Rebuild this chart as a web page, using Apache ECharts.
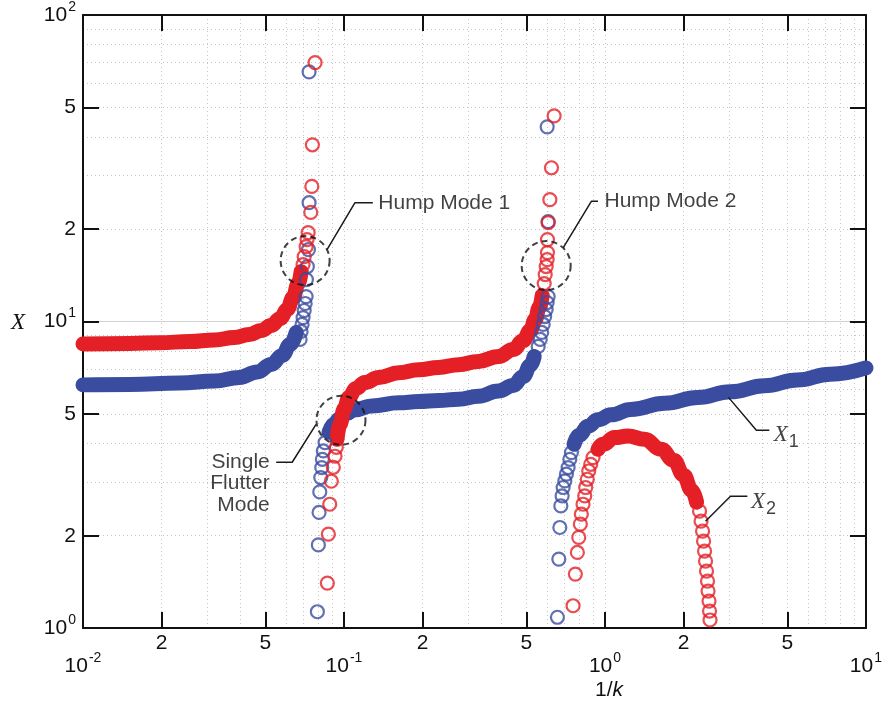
<!DOCTYPE html>
<html>
<head>
<meta charset="utf-8">
<script src="https://cdn.jsdelivr.net/npm/echarts@6/dist/echarts.min.js"></script>
<style>
  html, body { margin: 0; padding: 0; background: #fff; }
  #chart { width: 885px; height: 717px; }
</style>
</head>
<body>
<div id="chart"></div>
<script>
// ---- axis ticks, labels and grid positions (1/k on x, X on y) ----
const xTickValues   = [0.02, 0.05, 0.1, 0.2, 0.5, 1, 2, 5];
const xMinorLabels  = [0.02, 0.05, 0.2, 0.5, 2, 5];
const xDecadeLabels = [0.01, 0.1, 1, 10];
const xGridValues   = [0.02, 0.03, 0.04, 0.05, 0.06, 0.07, 0.08, 0.09, 0.1,
                       0.2, 0.3, 0.4, 0.5, 0.6, 0.7, 0.8, 0.9, 1,
                       2, 3, 4, 5, 6, 7, 8, 9];
const yTickValues   = [2, 5, 10, 20, 50];
const yLabelValues  = [1, 2, 5, 10, 20, 50, 100];
const yGridValues   = [2, 3, 4, 5, 6, 7, 8, 9, 20, 30, 40, 50, 60, 70, 80, 90];
const yGridSolid    = [10];

// ---- X1 (blue) : dense runs and separated samples ----
const x1BandLow = [[0.01, 6.212], [0.01511, 6.235], [0.02345, 6.3], [0.03191, 6.4],
  [0.03974, 6.571], [0.04655, 6.848], [0.05266, 7.244], [0.05801, 7.752],
  [0.0622, 8.416], [0.0656, 9.21]];
const x1RingsLow = [[0.0679, 8.74], [0.0685, 9.28], [0.0691, 9.78], [0.0697, 10.3],
  [0.0704, 10.86], [0.071, 11.45], [0.0716, 12.06], [0.0718, 13.7], [0.0724, 15.11],
  [0.0731, 17.16], [0.0735, 24.41], [0.0735, 65.23]];
const x1RingsMidBottom = [[0.07908, 1.13], [0.07977, 1.867], [0.08027, 2.382],
  [0.08077, 2.78], [0.08148, 3.097], [0.0822, 3.338], [0.08263, 3.552],
  [0.08336, 3.781], [0.08462, 4.027]];
const x1BandMid = [[0.08764, 4.35], [0.09158, 4.618], [0.0957, 4.795], [0.1018, 5.0],
  [0.1092, 5.14], [0.1279, 5.3], [0.1622, 5.43], [0.1933, 5.48], [0.2305, 5.52],
  [0.2748, 5.58], [0.3276, 5.7], [0.3905, 5.937], [0.4456, 6.186], [0.4864, 6.618],
  [0.5172, 7.19], [0.5358, 7.691]];
const x1RingsMidTop = [[0.5549, 8.29], [0.5647, 8.74], [0.5722, 9.21], [0.5798, 9.78],
  [0.5875, 10.38], [0.5954, 10.94], [0.6006, 11.53], [0.6058, 12.06], [0.6058, 21.17],
  [0.6006, 43.17]];
const x1RingsHigh = [[0.6575, 1.084], [0.6657, 1.678], [0.6716, 2.128], [0.6775, 2.502],
  [0.6853, 2.697], [0.6914, 2.873], [0.7018, 3.018], [0.7117, 3.175], [0.7225, 3.338],
  [0.7334, 3.552], [0.7438, 3.735]];
const x1BandHigh = [[0.7616, 3.975], [0.7959, 4.253], [0.8613, 4.55], [0.9404, 4.78],
  [1.054, 4.96], [1.256, 5.16], [1.694, 5.406], [2.265, 5.647], [3.027, 5.898],
  [4.081, 6.168], [5.452, 6.443], [7.29, 6.73], [10, 7.057]];

// ---- X2 (red) : dense runs and separated samples ----
const x2BandLow = [[0.01, 8.447], [0.01511, 8.48], [0.01967, 8.53], [0.02561, 8.6],
  [0.03191, 8.705], [0.03804, 8.871], [0.04339, 9.073], [0.04822, 9.348],
  [0.05266, 9.705], [0.05699, 10.23], [0.06059, 10.94], [0.06387, 11.97],
  [0.06674, 13.3], [0.06853, 14.55]];
const x2RingsLow = [[0.0697, 15.34], [0.0704, 16.28], [0.0716, 17.55], [0.0722, 18.5],
  [0.0729, 19.49], [0.0746, 22.7], [0.0753, 27.59], [0.0757, 37.72], [0.0775, 69.93]];
const x2RingsMidBottom = [[0.08636, 1.401], [0.08712, 2.024], [0.08819, 2.534],
  [0.08944, 3.012], [0.09104, 3.345], [0.09239, 3.634], [0.09346, 3.887]];
const x2BandMid = [[0.09404, 4.127], [0.09654, 4.618], [0.1, 5.169], [0.1045, 5.655],
  [0.1111, 6.05], [0.1203, 6.328], [0.136, 6.571], [0.1622, 6.8], [0.1933, 6.96],
  [0.2305, 7.084], [0.2748, 7.23], [0.3276, 7.409], [0.3905, 7.691], [0.4456, 8.105],
  [0.4864, 8.67], [0.5172, 9.348], [0.5405, 10.15], [0.5599, 11.11], [0.5748, 12.15]];
const x2RingsMidTop = [[0.5851, 13.3], [0.5902, 14.23], [0.5954, 15.11], [0.6006, 15.92],
  [0.6022, 16.78], [0.6022, 18.5], [0.6058, 21.01], [0.615, 24.97], [0.6237, 31.74],
  [0.6387, 46.88]];
const x2RingsArchLeft = [[0.7549, 1.182], [0.7702, 1.499], [0.784, 1.764], [0.7937, 1.975],
  [0.8049, 2.182], [0.812, 2.351], [0.8241, 2.534], [0.8365, 2.697], [0.8439, 2.873],
  [0.8558, 3.057], [0.8667, 3.253], [0.882, 3.421], [0.9001, 3.597]];
const x2BandArch = [[0.9404, 3.829], [0.9826, 3.975], [1.089, 4.18], [1.224, 4.23],
  [1.417, 4.127], [1.64, 3.829], [1.834, 3.525], [2.002, 3.15], [2.148, 2.815],
  [2.245, 2.573]];
const x2RingsArchRight = [[2.304, 2.405], [2.335, 2.231], [2.366, 2.07], [2.387, 1.92],
  [2.408, 1.781], [2.429, 1.652], [2.45, 1.533], [2.472, 1.422], [2.483, 1.32],
  [2.505, 1.224], [2.516, 1.136], [2.527, 1.062]];

// ---- annotations (data coordinates) ----
const modeCircles = [[0.07097, 15.8], [0.5954, 15.22], [0.09739, 4.761]];
const leaderHump1 = [[0.08612, 17.16], [0.1102, 24.41], [0.129, 24.41]];
const leaderHump2 = [[0.6914, 17.38], [0.8866, 24.66], [0.9404, 24.66]];
const leaderSingle = [[0.055, 3.473], [0.06333, 3.473], [0.07816, 4.618]];
const leaderX1 = [[2.974, 5.655], [3.804, 4.416], [4.265, 4.416]];
const leaderX2 = [[2.429, 2.231], [3.027, 2.692], [3.514, 2.692]];
const textLabels = [
  { value: [0.1348, 24.41], text: 'Hump Mode 1', side: 'right' },
  { value: [0.9913, 24.66], text: 'Hump Mode 2', side: 'right' },
  { value: [0.0522, 2.967], text: 'Single\nFlutter\nMode', side: 'left' },
  { value: [4.416, 4.253], text: '{x|X}{s|1}', side: 'right' },
  { value: [3.608, 2.573], text: '{x|X}{s|2}', side: 'right' }
];

const BLUE = '#3a4c9f';
const RED = '#e41f26';
const SANS = '"Liberation Sans", Arial, Helvetica, sans-serif';
const SERIF = '"Liberation Serif", "Times New Roman", serif';
const FS = 21;

const exp10 = v => Math.round(Math.log10(v));
const isDecade = v => Math.abs(Math.log10(v) - exp10(v)) < 1e-9;
const mantissa = v => String(Math.round(v / Math.pow(10, Math.floor(Math.log10(v) + 1e-9))));
const powerRich = {
  b: { fontFamily: SANS, fontSize: FS, color: '#111', lineHeight: 22 },
  e: { fontFamily: SANS, fontSize: 14, color: '#111', lineHeight: 14, padding: [0, 0, 16, 1] }
};
const powerLabel = v => '{b|10}{e|' + exp10(v) + '}';

const frameLine = { show: true, lineStyle: { color: '#111', width: 2 } };
const frameTick = (vals) => ({ show: true, inside: true, length: 16,
  lineStyle: { color: '#111', width: 2 }, customValues: vals });
const dotted = { show: true, lineStyle: { color: '#c4c4c4', width: 1, type: [1, 3] } };

function bandSeries(data, color) {
  return { type: 'line', data, xAxisIndex: 0, yAxisIndex: 0, symbol: 'none', clip: false,
    smooth: 0.45, smoothMonotone: 'x', silent: true,
    lineStyle: { color, width: 15, cap: 'round', join: 'round' }, z: 3 };
}
function ringSeries(data, color) {
  return { type: 'scatter', data, xAxisIndex: 0, yAxisIndex: 0, symbol: 'circle', symbolSize: 13,
    clip: false, silent: true,
    itemStyle: { color: 'rgba(0,0,0,0)', borderColor: color, borderWidth: 2.2 }, z: 3 };
}
function leaderSeries(data) {
  return { type: 'line', data, symbol: 'none', clip: false, silent: true,
    lineStyle: { color: '#1a1a1a', width: 1.5 }, z: 6 };
}

const chart = echarts.init(document.getElementById('chart'), null, { renderer: 'canvas' });
chart.setOption({
  animation: false,
  backgroundColor: '#fff',
  grid: { left: 83, right: 17, top: 15, bottom: 89, containLabel: false },
  xAxis: [
    { type: 'log', logBase: 10, min: 0.01, max: 10, position: 'bottom',
      axisLine: frameLine, axisTick: frameTick(xTickValues), splitLine: { show: false },
      axisLabel: { customValues: xMinorLabels, formatter: mantissa, margin: 5,
        fontFamily: SANS, fontSize: FS, color: '#111' } },
    { type: 'log', logBase: 10, min: 0.01, max: 10, position: 'bottom',
      axisLine: { show: false }, axisTick: { show: false, customValues: xDecadeLabels },
      splitLine: { show: false },
      axisLabel: { customValues: xDecadeLabels, formatter: powerLabel, margin: 27, rich: powerRich } },
    { type: 'log', logBase: 10, min: 0.01, max: 10, position: 'top',
      axisLine: frameLine, axisTick: frameTick(xTickValues), axisLabel: { show: false },
      splitLine: { show: false } },
    { type: 'log', logBase: 10, min: 0.01, max: 10, position: 'bottom', z: 0,
      axisLine: { show: false }, axisTick: { show: false, customValues: xGridValues },
      axisLabel: { show: false }, splitLine: dotted }
  ],
  yAxis: [
    { type: 'log', logBase: 10, min: 1, max: 100, position: 'left',
      axisLine: frameLine, axisTick: frameTick(yTickValues), splitLine: { show: false },
      axisLabel: { customValues: yLabelValues, margin: 7, color: '#111',
        fontFamily: SANS, fontSize: FS, rich: powerRich,
        formatter: v => isDecade(v) ? powerLabel(v) : mantissa(v) } },
    { type: 'log', logBase: 10, min: 1, max: 100, position: 'right',
      axisLine: frameLine, axisTick: frameTick(yTickValues), axisLabel: { show: false },
      splitLine: { show: false } },
    { type: 'log', logBase: 10, min: 1, max: 100, position: 'left', z: 0,
      axisLine: { show: false }, axisTick: { show: false, customValues: yGridValues },
      axisLabel: { show: false }, splitLine: dotted },
    { type: 'log', logBase: 10, min: 1, max: 100, position: 'left', z: 0,
      axisLine: { show: false }, axisTick: { show: false, customValues: yGridSolid },
      axisLabel: { show: false },
      splitLine: { show: true, lineStyle: { color: '#d2d2d2', width: 1, type: 'solid' } } }
  ],
  graphic: [
    { type: 'text', left: 11, top: 311,
      style: { text: 'X', font: 'italic 23px ' + SERIF, fill: '#111' } },
    { type: 'text', x: 609, y: 690,
      style: { text: '{a|1/}{k|k}', align: 'center', verticalAlign: 'middle',
        rich: { a: { fontFamily: SANS, fontSize: FS, fill: '#111' },
                k: { fontFamily: SANS, fontStyle: 'italic', fontSize: FS, fill: '#111' } } } }
  ],
  series: [
    bandSeries(x1BandLow, BLUE), bandSeries(x1BandMid, BLUE), bandSeries(x1BandHigh, BLUE),
    ringSeries([].concat(x1RingsLow, x1RingsMidBottom, x1RingsMidTop, x1RingsHigh), BLUE),
    bandSeries(x2BandLow, RED), bandSeries(x2BandMid, RED), bandSeries(x2BandArch, RED),
    ringSeries([].concat(x2RingsLow, x2RingsMidBottom, x2RingsMidTop, x2RingsArchLeft, x2RingsArchRight), RED),
    { type: 'scatter', data: modeCircles, symbol: 'circle', symbolSize: 49, clip: false, silent: true,
      itemStyle: { color: 'rgba(0,0,0,0)', borderColor: '#111', borderWidth: 2, borderType: [6, 4] }, z: 5 },
    leaderSeries(leaderHump1), leaderSeries(leaderHump2), leaderSeries(leaderSingle),
    leaderSeries(leaderX1), leaderSeries(leaderX2),
    { type: 'scatter', symbol: 'circle', symbolSize: 1, clip: false, silent: true, z: 7,
      itemStyle: { color: 'rgba(0,0,0,0)' },
      data: textLabels.map(d => ({
        value: d.value,
        label: {
          show: true, position: d.side, distance: 0, formatter: d.text,
          align: d.side === 'left' ? 'right' : 'left', verticalAlign: 'middle',
          fontFamily: SANS, fontSize: FS, lineHeight: 21.5, color: '#111',
          rich: {
            x: { fontFamily: SERIF, fontStyle: 'italic', fontSize: 23, color: '#111', lineHeight: 23 },
            s: { fontFamily: SANS, fontSize: 18, color: '#111', lineHeight: 18, padding: [14, 0, 0, 1] }
          }
        }
      }))
    }
  ]
});
</script>
</body>
</html>
